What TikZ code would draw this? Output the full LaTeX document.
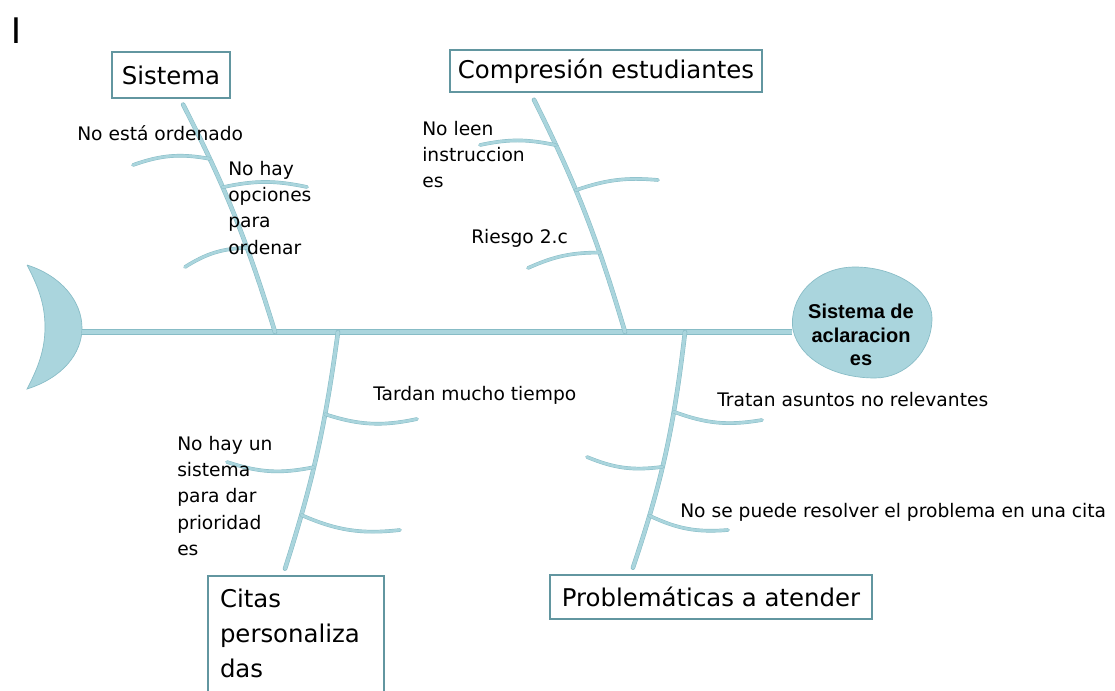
\documentclass[tikz,border=0pt]{standalone}
\usepackage{fontspec}
\setmainfont{DejaVu Sans}
\newfontfamily\arialfont{Liberation Sans}
\usetikzlibrary{shapes.geometric}

\definecolor{bone}{RGB}{170,213,221}
\definecolor{boneedge}{RGB}{135,188,198}
\definecolor{boxedge}{RGB}{98,150,160}

\tikzstyle{t} = [rectangle, draw=boxedge, line width=1.5pt, fill=white, minimum height=33pt, inner xsep=4pt, font=\fontsize{18.3}{26}\selectfont]
\tikzstyle{n} = [inner sep=0pt, align=left, font=\fontsize{14}{19.7}\selectfont]
\tikzstyle{sp} = [draw=boneedge, double=bone, line width=0.5pt, double distance=3.5pt]
\tikzstyle{m} = [draw=boneedge, double=bone, line width=0.4pt, double distance=2.6pt, line cap=round]
\tikzstyle{f} = [draw=boneedge, double=bone, line width=0.35pt, double distance=2pt, line cap=round]

\begin{document}
\begin{tikzpicture}[x=0.75pt, y=-0.75pt]
	\clip (0,0) rectangle (1115,690);
	\fill [white] (0,0) rectangle (1115,690);

	\node [font=\arialfont\fontsize{28}{30}\selectfont] (i) at (16,31) {I};

	% cabeza y cola
	\fill [bone, draw=boneedge, line width=0.5pt] (855,267) .. controls (895,267) and (932,290) .. (932,318) .. controls (932,352) and (905,378) .. (875,378) .. controls (835,378) and (800,360) .. (793,330) .. controls (788,298) and (815,267) .. (855,267);
	\node [ellipse, minimum width=105pt, minimum height=82pt] (h) at (862,332) {};
	\node [align=center, font=\arialfont\bfseries\fontsize{15}{17.5}\selectfont] (ht) at (861,335) {Sistema de\\aclaracion\\es};
	\fill [bone, draw=boneedge, line width=0.5pt] (27,265) .. controls (62,276) and (82,302) .. (82,328) .. controls (82,354) and (62,378) .. (27,389) .. controls (38,368) and (45,350) .. (45,327) .. controls (45,304) and (38,286) .. (27,265);
	\coordinate (k) at (82,332);

	\coordinate (p1) at (275,332);
	\coordinate (p2) at (338,332);
	\coordinate (p3) at (625,332);
	\coordinate (p4) at (685,332);

	\draw [sp] (k) -- (h);

	% categorias
	\node [t, minimum width=88.5pt, minimum height=34pt] (a) at (171,75) {Sistema};
	\node [t, minimum width=234pt, minimum height=31pt] (b) at (606,71) {Compresión estudiantes};
	\node [t, minimum width=242pt] (d) at (711,597) {Problemáticas a atender};
	\node [t, anchor=north west, inner xsep=9pt, inner ysep=10pt, text width=114pt, align=left] (c) at (207,575) {Citas\\personaliza\\das\rule[-20pt]{0pt}{0pt}};

	\draw [m, shorten <=5pt] (a.-69) to[bend left=5] coordinate[pos=0.25] (a1) coordinate[pos=0.38] (a2) coordinate[pos=0.66] (a3) (p1);
	\draw [m, shorten <=6pt] (b.-164) to[bend left=5] coordinate[pos=0.21] (b1) coordinate[pos=0.41] (b2) coordinate[pos=0.69] (b3) (p3);
	\draw [m, shorten >=5pt] (p2) to[bend left=5] coordinate[pos=0.32] (c1) coordinate[pos=0.555] (c2) coordinate[pos=0.765] (c3) (c.north -| 283,0);
	\draw [m, shorten >=5pt] (p4) to[bend left=6] coordinate[pos=0.31] (d1) coordinate[pos=0.555] (d2) coordinate[pos=0.77] (d3) (d.164);

	% espinas menores
	\coordinate (a1e) at (133,165);
	\coordinate (a2e) at (307,187);
	\coordinate (a3e) at (185,267);
	\coordinate (b1e) at (480,145);
	\coordinate (b2e) at (658,180);
	\coordinate (b3e) at (528,268);
	\coordinate (c1e) at (417,419);
	\coordinate (c2e) at (227,462);
	\coordinate (c3e) at (400,530);
	\coordinate (d1e) at (762,420);
	\coordinate (d2e) at (587,457);
	\coordinate (d3e) at (728,530);

	\draw [f] (a1) to[bend right=15] (a1e);
	\draw [f] (a2) to[bend left=12] (a2e);
	\draw [f] (a3) to[bend right=15] (a3e);
	\draw [f] (b1) to[bend right=12] (b1e);
	\draw [f] (b2) to[bend left=12] (b2e);
	\draw [f] (b3) to[bend right=12] (b3e);
	\draw [f] (c1) to[bend right=15] (c1e);
	\draw [f] (c2) to[bend left=15] (c2e);
	\draw [f] (c3) to[bend right=15] (c3e);
	\draw [f] (d1) to[bend right=15] (d1e);
	\draw [f] (d2) to[bend left=15] (d2e);
	\draw [f] (d3) to[bend right=15] (d3e);

	% causas
	\node [n, anchor=west] (l1) at (77,133) {No está ordenado};
	\node [n, anchor=north west] (l2) at (228,161) {No hay\\opciones\\para\\ordenar};
	\node [n, anchor=north west] (l3) at (422,121) {No leen\\instruccion\\es};
	\node [n, anchor=west] (l4) at (471,238) {Riesgo 2.c};
	\node [n, anchor=west] (l5) at (373,395) {Tardan mucho tiempo};
	\node [n, anchor=north west] (l6) at (177,436) {No hay un\\sistema\\para dar\\prioridad\\es};
	\node [n, anchor=west] (l7) at (717,400) {Tratan asuntos no relevantes};
	\node [n, anchor=west] (l8) at (680,512) {No se puede resolver el problema en una cita};
\end{tikzpicture}
\end{document}
